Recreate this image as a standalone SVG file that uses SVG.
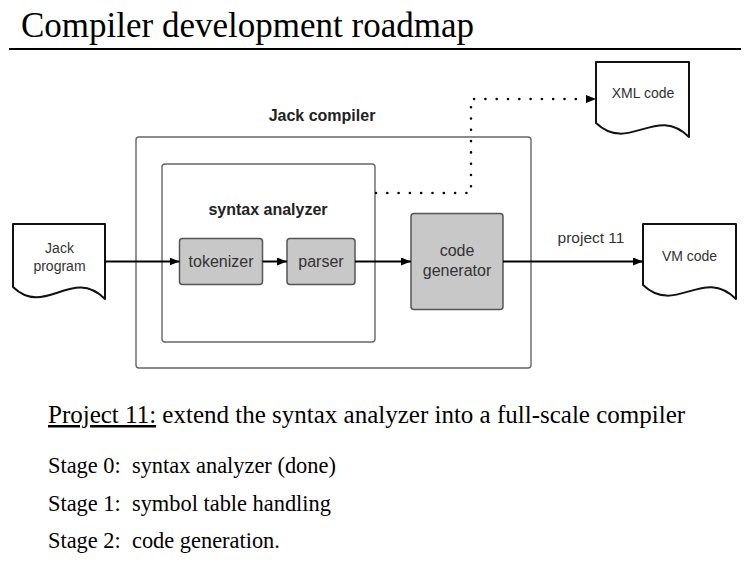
<svg xmlns="http://www.w3.org/2000/svg" width="749" height="570" viewBox="0 0 749 570">
<style>
.serif{font-family:"Liberation Serif","Times New Roman",serif;fill:#000}
.lbl{font-family:"Liberation Sans",Arial,sans-serif;font-size:16px;fill:#333;text-anchor:middle}
.doclbl{font-family:"Liberation Sans",Arial,sans-serif;font-size:14px;fill:#333;text-anchor:middle}
.bold{font-family:"Liberation Sans",Arial,sans-serif;font-size:16px;font-weight:bold;fill:#222;text-anchor:middle}
.doc{fill:#fff;stroke:#111;stroke-width:2;stroke-linejoin:round}
.box{fill:#c8c8c8;stroke:#555;stroke-width:1.5}
.frame{fill:#fff;stroke:#666;stroke-width:1.4}
.conn{fill:none;stroke:#000;stroke-width:2}
.dots{fill:none;stroke:#000;stroke-width:2.6;stroke-linecap:round;stroke-dasharray:0 11.3}
</style>
<defs>
<marker id="arr" markerWidth="10" markerHeight="8" refX="10" refY="4" orient="auto" markerUnits="userSpaceOnUse">
<path d="M0,0 L10,4 L0,8 Z" fill="#000"/>
</marker>
</defs>
<rect width="749" height="570" fill="#fff"/>
<g id="title">
<text class="serif" x="21" y="37" font-size="35">Compiler development roadmap</text>
<line x1="9" y1="49" x2="741" y2="49" stroke="#000" stroke-width="2"/>
</g>
<g id="jack-compiler">
<rect class="frame" x="136" y="137" width="395" height="231" rx="3"/>
<text class="bold" x="322" y="121">Jack compiler</text>
</g>
<g id="syntax-analyzer">
<rect class="frame" x="162" y="164" width="213" height="178" rx="3"/>
<text class="bold" x="268" y="215">syntax analyzer</text>
</g>
<g id="tokenizer">
<rect class="box" x="179.5" y="238.5" width="83" height="46" rx="3"/>
<text class="lbl" x="221" y="267">tokenizer</text>
</g>
<g id="parser">
<rect class="box" x="287" y="238.5" width="68" height="46" rx="3"/>
<text class="lbl" x="321" y="267">parser</text>
</g>
<g id="code-generator">
<rect class="box" x="411" y="213.5" width="92" height="96" rx="3"/>
<text class="lbl" x="457" y="256">code</text>
<text class="lbl" x="457" y="276">generator</text>
</g>
<g id="jack-program">
<path class="doc" d="M13,224 H105 V299 C72,266 45,318 13,287 Z"/>
<text class="doclbl" x="59.5" y="253">Jack</text>
<text class="doclbl" x="59.5" y="271">program</text>
</g>
<g id="vm-code">
<path class="doc" d="M643,224 H736 V299 C703,266 676,316 643,285 Z"/>
<text class="doclbl" x="689.5" y="261">VM code</text>
</g>
<g id="xml-code">
<path class="doc" d="M596,62 H689 V137 C656,104 629,154 596,123 Z"/>
<text class="doclbl" x="643" y="98">XML code</text>
</g>
<g id="connectors">
<line class="conn" x1="105" y1="261.5" x2="179.5" y2="261.5" marker-end="url(#arr)"/>
<line class="conn" x1="262.5" y1="261.5" x2="287" y2="261.5" marker-end="url(#arr)"/>
<line class="conn" x1="355" y1="261.5" x2="411" y2="261.5" marker-end="url(#arr)"/>
<line class="conn" x1="503" y1="261.5" x2="643" y2="261.5" marker-end="url(#arr)"/>
<path class="dots" d="M376,193 H471 V99 H586"/>
<path d="M586,95 L596,99 L586,103 Z" fill="#000"/>
<text class="doclbl" x="591" y="243" style="font-size:15.5px">project 11</text>
</g>
<g id="notes">
<text class="serif" x="48" y="423" font-size="25"><tspan text-decoration="underline">Project 11:</tspan> extend the syntax analyzer into a full-scale compiler</text>
<text class="serif" x="48" y="473" font-size="22.4" xml:space="preserve">Stage 0:  syntax analyzer (done)</text>
<text class="serif" x="48" y="511" font-size="22.4" xml:space="preserve">Stage 1:  symbol table handling</text>
<text class="serif" x="48" y="548" font-size="22.4" xml:space="preserve">Stage 2:  code generation.</text>
</g>
</svg>
